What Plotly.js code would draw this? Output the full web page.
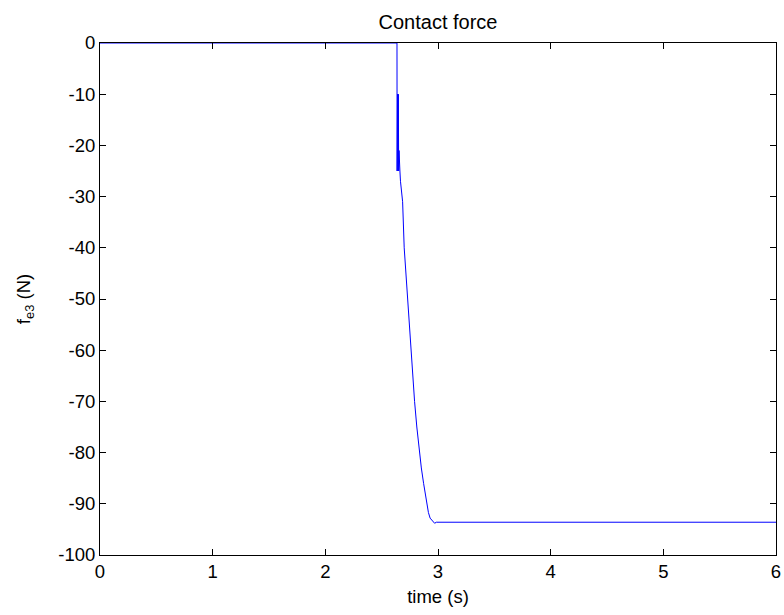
<!DOCTYPE html>
<html>
<head>
<meta charset="utf-8">
<script src="https://cdn.plot.ly/plotly-3.0.1.min.js"></script>
<style>html,body{margin:0;padding:0;background:#fff;}#chart{width:784px;height:615px;}</style>
</head>
<body>
<div id="chart"></div>
<script>
// time (s)
const timeS = [0, 2.636, 2.637, 2.641, 2.645, 2.648, 2.651, 2.654, 2.657, 2.662, 2.667, 2.676, 2.686, 2.700, 2.715, 2.730, 2.745, 2.763, 2.778, 2.792, 2.812, 2.835, 2.852, 2.872, 2.888, 2.900, 2.915, 2.930, 2.950, 2.970, 2.985, 6.0];
// contact force f_e3 (N)
const forceN = [0, 0, -25, -10, -25, -10, -25, -21, -25, -25, -27, -29, -31, -40, -45, -50, -55, -60, -65, -70, -75, -80, -83, -86, -88.5, -90, -91.7, -92.8, -93.4, -93.8, -93.6, -93.6];
const xTicks = [0, 1, 2, 3, 4, 5, 6];
const yTicks = [0, -10, -20, -30, -40, -50, -60, -70, -80, -90, -100];

const font = {family: '"Liberation Sans", Arial, sans-serif', size: 18.5, color: '#000'};
const axisCommon = {
  showgrid: false, zeroline: false, showline: true, linecolor: '#000', linewidth: 1,
  mirror: 'ticks', ticks: 'inside', ticklen: 6, tickcolor: '#000', tickwidth: 1,
  tickfont: font, automargin: false
};

Plotly.newPlot('chart', [{
  x: timeS, y: forceN, type: 'scatter', mode: 'lines',
  line: {color: '#0000ff', width: 1}, hoverinfo: 'skip'
}], {
  width: 784, height: 615,
  margin: {l: 99.5, r: 8, t: 43, b: 60},
  paper_bgcolor: '#fff', plot_bgcolor: '#fff',
  showlegend: false,
  title: {text: 'Contact force', font: {family: font.family, size: 20, color: '#000'}, x: 0.5, xanchor: 'center', y: 0.965, yanchor: 'middle', xref: 'paper'},
  xaxis: Object.assign({}, axisCommon, {range: [0, 6], tickvals: xTicks, ticktext: xTicks.map(String),
    title: {text: 'time (s)', font: font, standoff: 8}}),
  yaxis: Object.assign({}, axisCommon, {range: [-100, 0], tickvals: yTicks, ticktext: yTicks.map(String),
    title: {text: 'f<sub>e3</sub> (N)', font: font, standoff: 22}})
}, {staticPlot: true});
</script>
</body>
</html>
